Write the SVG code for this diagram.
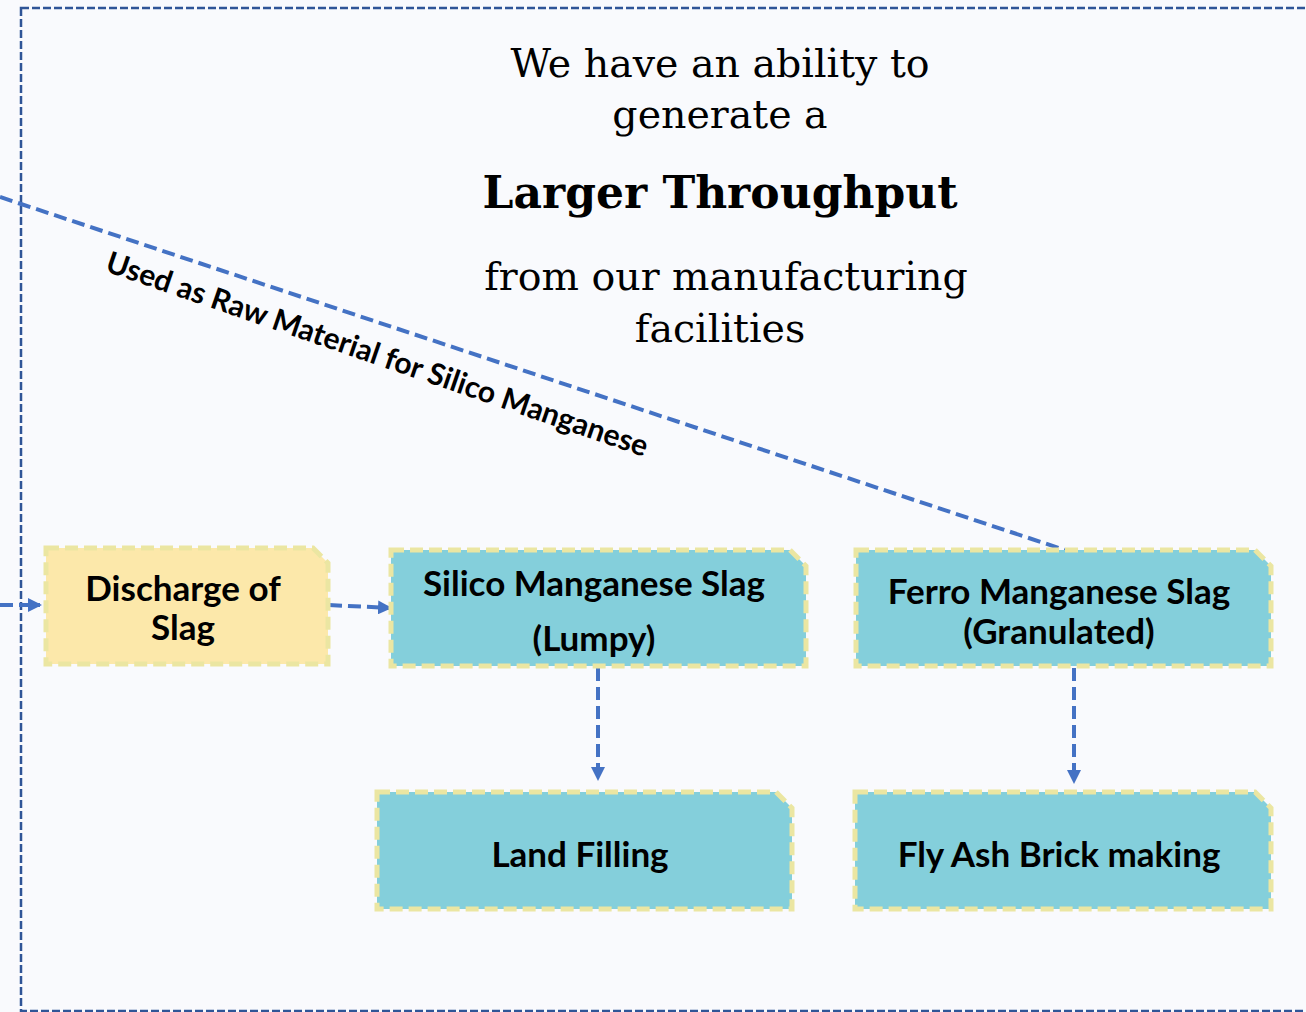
<svg xmlns="http://www.w3.org/2000/svg" width="1306" height="1012" viewBox="0 0 1306 1012">
<style>
.bg{fill:#f9fafd}
.frame{fill:none;stroke:#2f5597;stroke-width:2.5;stroke-dasharray:8,3}
.node{stroke:#ebe6a2;stroke-width:5;stroke-dasharray:13,6}
.blue{fill:#84cfdb}
.yellow{fill:#fce8aa}
.lbl{font-family:Lato,"Open Sans",sans-serif;font-weight:bold;font-size:35px;fill:#000;text-anchor:middle}
.title{font-family:"DejaVu Serif",serif;font-size:39.5px;fill:#000;text-anchor:middle}
.conn{fill:none;stroke:#4472c4;stroke-width:4;stroke-dasharray:13,6}
.elbl{font-family:Lato,"Open Sans",sans-serif;font-weight:bold;font-size:30px;fill:#000;text-anchor:middle}
</style>
<defs>
<marker id="arr" markerWidth="14" markerHeight="14" refX="12" refY="7" orient="auto" markerUnits="userSpaceOnUse">
<path d="M0,0 L14,7 L0,14 Z" fill="#4472c4"/>
</marker>
</defs>
<rect class="bg" x="0" y="0" width="1306" height="1012"/>
<rect class="frame" x="21" y="8" width="1300" height="1003"/>
<g id="title">
<text class="title" x="720" y="77">We have an ability to</text>
<text class="title" x="720" y="128">generate a</text>
<text class="title" x="720" y="208" style="font-weight:bold;font-size:44px">Larger Throughput</text>
<text class="title" x="726" y="290">from our manufacturing</text>
<text class="title" x="720" y="342">facilities</text>
</g>
<g id="connectors">
<line class="conn" x1="0" y1="605" x2="40" y2="605" marker-end="url(#arr)"/>
<line class="conn" x1="329" y1="605" x2="390" y2="608" marker-end="url(#arr)"/>
<line class="conn" x1="598" y1="668" x2="598" y2="779" marker-end="url(#arr)"/>
<line class="conn" x1="1074" y1="668" x2="1074" y2="782" marker-end="url(#arr)"/>
<line class="conn" x1="0" y1="197" x2="1065" y2="550"/>
<text class="elbl" transform="translate(374,364) rotate(19)">Used as Raw Material for Silico Manganese</text>
</g>
<g id="discharge">
<path class="node yellow" d="M46,548 H313 L328,563 V664 H46 Z"/>
<text class="lbl" x="183" y="601">Discharge of</text>
<text class="lbl" x="183" y="640">Slag</text>
</g>
<g id="silico">
<path class="node blue" d="M391,550 H790 L806,566 V666 H391 Z"/>
<text class="lbl" x="594" y="596">Silico Manganese Slag</text>
<text class="lbl" x="594" y="651">(Lumpy)</text>
</g>
<g id="ferro">
<path class="node blue" d="M856,550 H1255 L1271,566 V666 H856 Z"/>
<text class="lbl" x="1059" y="604">Ferro Manganese Slag</text>
<text class="lbl" x="1059" y="644">(Granulated)</text>
</g>
<g id="landfill">
<path class="node blue" d="M377,792 H776 L792,808 V909 H377 Z"/>
<text class="lbl" x="580" y="867">Land Filling</text>
</g>
<g id="flyash">
<path class="node blue" d="M855,792 H1255 L1271,808 V909 H855 Z"/>
<text class="lbl" x="1059" y="867">Fly Ash Brick making</text>
</g>
</svg>
